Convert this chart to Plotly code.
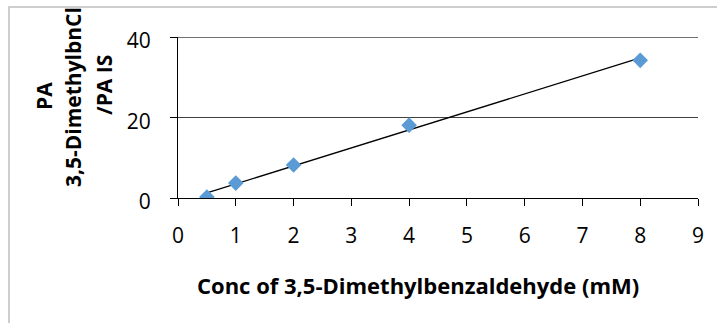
import numpy as np
import plotly.graph_objects as go

# Calibration data: concentration vs. peak-area ratio
conc_mM = [0.5, 1, 2, 4, 8]
area_ratio = [0.25, 3.7, 8.2, 18.1, 34.2]

x_ticks = [0, 1, 2, 3, 4, 5, 6, 7, 8, 9]
y_ticks = [0, 20, 40]

x_title = "Conc of 3,5-Dimethylbenzaldehyde (mM)"
y_title_lines = ["PA", "3,5-DimethylbnCl", "/PA IS"]

FONT = "Open Sans"
W, H = 717, 323
L, R, T, B = 178, 19, 37, 125
PW, PH = W - L - R, H - T - B

# Linear trendline over the measured range
slope, intercept = np.polyfit(conc_mM, area_ratio, 1)
trend_x = np.array([min(conc_mM), max(conc_mM)])
trend_y = slope * trend_x + intercept

fig = go.Figure()
fig.add_trace(go.Scatter(
    x=trend_x, y=trend_y, mode="lines",
    line=dict(color="black", width=1.3),
    hoverinfo="skip", showlegend=False,
))
fig.add_trace(go.Scatter(
    x=conc_mM, y=area_ratio, mode="markers",
    marker=dict(symbol="diamond", size=12, color="#5B9BD5"),
    showlegend=False,
))


def px_x(p):
    return (p - L) / PW


def px_y(p):
    return (T + PH - p) / PH


# Chart outer border (light grey frame)
fig.add_shape(type="rect", xref="paper", yref="paper",
              x0=px_x(9), x1=px_x(W + 10), y0=px_y(H + 10), y1=px_y(7),
              line=dict(color="#BFBFBF", width=1.5), layer="below")

# Major gridline at the top of the value axis
fig.add_shape(type="line", xref="paper", yref="y",
              x0=0, x1=1, y0=y_ticks[-1], y1=y_ticks[-1],
              line=dict(color="#404040", width=1.3))

# Rotated multi-line y title
for txt, cx, cy in zip(y_title_lines, [44, 73, 104], [96, 97, 85]):
    fig.add_annotation(text=f"<b>{txt}</b>", xref="paper", yref="paper",
                       x=px_x(cx), y=px_y(cy), showarrow=False, textangle=-90,
                       xanchor="center", yanchor="middle",
                       font=dict(family=FONT, size=21, color="black"))

fig.add_annotation(text=f"<b>{x_title}</b>", xref="paper", yref="paper",
                   x=px_x(418), y=px_y(285), showarrow=False,
                   xanchor="center", yanchor="middle",
                   font=dict(family=FONT, size=22, color="black"))

fig.update_xaxes(
    range=[0, 9], tickvals=x_ticks, ticktext=[str(v) for v in x_ticks],
    showline=True, linecolor="black", linewidth=1.3,
    ticks="outside", ticklen=7, tickcolor="black", tickwidth=1.3,
    showgrid=False, zeroline=False,
    tickfont=dict(family=FONT, size=21, color="black"),
    ticklabelstandoff=12,
)
fig.update_yaxes(
    range=[0, 40], tickvals=y_ticks, ticktext=[str(v) for v in y_ticks],
    showline=True, linecolor="black", linewidth=1.3,
    ticks="outside", ticklen=7, tickcolor="black", tickwidth=1.3,
    showgrid=True, gridcolor="#404040", gridwidth=1.3, zeroline=False,
    tickfont=dict(family=FONT, size=21, color="black"),
    ticklabelstandoff=15, ticklabelshift=4,
)

fig.update_layout(
    width=W, height=H,
    margin=dict(l=L, r=R, t=T, b=B, pad=0),
    paper_bgcolor="white", plot_bgcolor="white",
    font=dict(family=FONT, color="black"),
)

fig.write_html("out.html")
